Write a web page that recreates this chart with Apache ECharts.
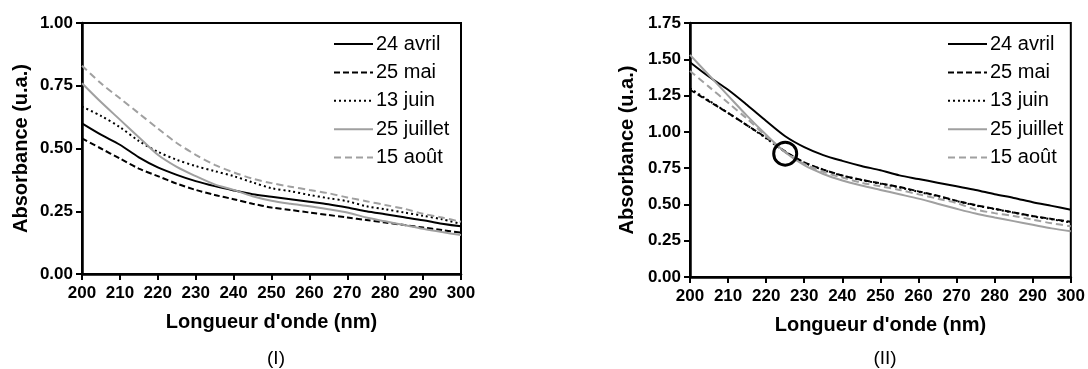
<!DOCTYPE html>
<html>
<head>
<meta charset="utf-8">
<script src="https://cdn.jsdelivr.net/npm/echarts@6/dist/echarts.min.js"></script>
<style>
  html, body { margin: 0; padding: 0; background: #fff; }
  #chart { width: 1088px; height: 369px; }
</style>
</head>
<body>
<div id="chart"></div>
<script>
// longueurs d'onde (nm)
const wavelengths = [200, 205, 210, 215, 220, 225, 230, 235, 240, 245, 250,
                     255, 260, 265, 270, 275, 280, 285, 290, 295, 300];
const seriesNames = ['24 avril', '25 mai', '13 juin', '25 juillet', '15 août'];

// (I)
const leftAvril   = [0.60, 0.555, 0.515, 0.465, 0.425, 0.395, 0.37, 0.35, 0.333, 0.318, 0.308, 0.298, 0.288, 0.278, 0.265, 0.25, 0.238, 0.226, 0.214, 0.20, 0.19];
const leftMai     = [0.54, 0.50, 0.46, 0.42, 0.39, 0.36, 0.335, 0.315, 0.298, 0.28, 0.265, 0.255, 0.245, 0.235, 0.225, 0.215, 0.205, 0.195, 0.185, 0.175, 0.165];
const leftJuin    = [0.667, 0.63, 0.585, 0.53, 0.487, 0.455, 0.43, 0.41, 0.39, 0.365, 0.342, 0.33, 0.315, 0.302, 0.29, 0.27, 0.258, 0.245, 0.232, 0.218, 0.20];
const leftJuillet = [0.76, 0.685, 0.615, 0.545, 0.475, 0.427, 0.39, 0.357, 0.335, 0.31, 0.292, 0.28, 0.27, 0.258, 0.245, 0.225, 0.21, 0.195, 0.18, 0.167, 0.155];
const leftAout    = [0.83, 0.76, 0.70, 0.64, 0.58, 0.522, 0.475, 0.435, 0.405, 0.38, 0.362, 0.348, 0.335, 0.322, 0.305, 0.29, 0.275, 0.26, 0.24, 0.225, 0.208];

// (II)
const rightAvril   = [1.48, 1.38, 1.29, 1.185, 1.075, 0.97, 0.895, 0.84, 0.80, 0.765, 0.735, 0.70, 0.675, 0.65, 0.625, 0.60, 0.57, 0.545, 0.515, 0.49, 0.464];
const rightMai     = [1.29, 1.21, 1.13, 1.045, 0.96, 0.865, 0.79, 0.74, 0.70, 0.67, 0.645, 0.62, 0.59, 0.56, 0.525, 0.495, 0.47, 0.445, 0.42, 0.40, 0.38];
const rightJuin    = [1.30, 1.215, 1.13, 1.045, 0.955, 0.862, 0.788, 0.738, 0.698, 0.668, 0.643, 0.617, 0.587, 0.557, 0.523, 0.493, 0.468, 0.443, 0.418, 0.397, 0.376];
const rightJuillet = [1.53, 1.39, 1.25, 1.11, 0.98, 0.86, 0.77, 0.71, 0.665, 0.63, 0.60, 0.57, 0.54, 0.505, 0.47, 0.437, 0.41, 0.385, 0.36, 0.335, 0.315];
const rightAout    = [1.42, 1.31, 1.20, 1.09, 0.97, 0.86, 0.78, 0.725, 0.685, 0.65, 0.625, 0.60, 0.57, 0.54, 0.51, 0.465, 0.44, 0.42, 0.395, 0.37, 0.35];

// point isobestique entouré sur (II)
const circlePoint = [[225, 0.85]];

const FONT = 'Liberation Sans, Arial, sans-serif';

const styles = {
  '24 avril':   { color: '#000', width: 2, type: 'solid' },
  '25 mai':     { color: '#000', width: 2, type: [6, 3] },
  '13 juin':    { color: '#000', width: 2, type: [2, 3] },
  '25 juillet': { color: '#a0a0a0', width: 2, type: 'solid' },
  '15 août':    { color: '#a0a0a0', width: 2, type: [7, 4] }
};

function pairs(values) {
  return wavelengths.map((w, i) => [w, values[i]]);
}

function lineSeries(name, values, idx) {
  return {
    name: name,
    type: 'line',
    xAxisIndex: idx,
    yAxisIndex: idx,
    data: pairs(values),
    symbol: 'none',
    smooth: 0.3,
    color: styles[name].color,
    lineStyle: styles[name],
    animation: false
  };
}

function xAxis(idx) {
  return {
    gridIndex: idx,
    type: 'value',
    min: 200, max: 300, interval: 10,
    name: "Longueur d'onde (nm)",
    nameLocation: 'middle',
    nameGap: 38,
    nameTextStyle: { fontFamily: FONT, fontSize: 20, fontWeight: 'bold', color: '#000' },
    axisLine: { lineStyle: { color: '#000', width: 2.5 } },
    axisTick: { length: 6, lineStyle: { color: '#000', width: 2 } },
    axisLabel: { margin: 11, fontFamily: FONT, fontSize: 17, fontWeight: 'bold', color: '#000', showMinLabel: true, showMaxLabel: true },
    splitLine: { show: false }
  };
}

function yAxis(idx, max, gap) {
  return {
    gridIndex: idx,
    type: 'value',
    min: 0, max: max, interval: 0.25,
    name: 'Absorbance (u.a.)',
    nameLocation: 'middle',
    nameGap: gap,
    nameTextStyle: { fontFamily: FONT, fontSize: 20, fontWeight: 'bold', color: '#000' },
    axisLine: { show: true, lineStyle: { color: '#000', width: 2.5 } },
    axisTick: { show: true, length: 6, lineStyle: { color: '#000', width: 2 } },
    axisLabel: { margin: 9, fontFamily: FONT, fontSize: 17, fontWeight: 'bold', color: '#000',
                 formatter: v => v.toFixed(2) },
    splitLine: { show: false }
  };
}

function legend(left) {
  return {
    data: seriesNames,
    orient: 'vertical',
    left: left,
    top: 34,
    padding: 0,
    itemWidth: 39,
    itemHeight: 14,
    itemGap: 8.4,
    selectedMode: false,
    itemStyle: { opacity: 0 },
    textStyle: { fontFamily: FONT, fontSize: 20, color: '#000', lineHeight: 20, padding: [0, 0, 0, -2] }
  };
}

const chart = echarts.init(document.getElementById('chart'));

const series = [];
[leftAvril, leftMai, leftJuin, leftJuillet, leftAout].forEach((v, i) => series.push(lineSeries(seriesNames[i], v, 0)));
[rightAvril, rightMai, rightJuin, rightJuillet, rightAout].forEach((v, i) => series.push(lineSeries(seriesNames[i], v, 1)));
series.push({
  name: 'cercle',
  type: 'scatter',
  xAxisIndex: 1,
  yAxisIndex: 1,
  data: circlePoint,
  symbol: 'circle',
  symbolSize: 23,
  itemStyle: { color: 'rgba(0,0,0,0)', borderColor: '#000', borderWidth: 3, opacity: 1 },
  z: 5,
  animation: false
});

chart.setOption({
  backgroundColor: '#fff',
  animation: false,
  title: [
    { text: '(I)', left: 271, top: 344, textAlign: 'center',
      textStyle: { fontFamily: FONT, fontSize: 19, fontWeight: 'normal', color: '#000' } },
    { text: '(II)', left: 880, top: 344, textAlign: 'center',
      textStyle: { fontFamily: FONT, fontSize: 19, fontWeight: 'normal', color: '#000' } }
  ],
  grid: [
    { left: 82, top: 23, width: 379, height: 251, show: true, borderColor: '#000', borderWidth: 2 },
    { left: 690, top: 23, width: 381, height: 254, show: true, borderColor: '#000', borderWidth: 2 }
  ],
  legend: [legend(333), legend(947)],
  xAxis: [xAxis(0), xAxis(1)],
  yAxis: [yAxis(0, 1, 51), yAxis(1, 1.75, 53)],
  series: series
});
</script>
</body>
</html>
